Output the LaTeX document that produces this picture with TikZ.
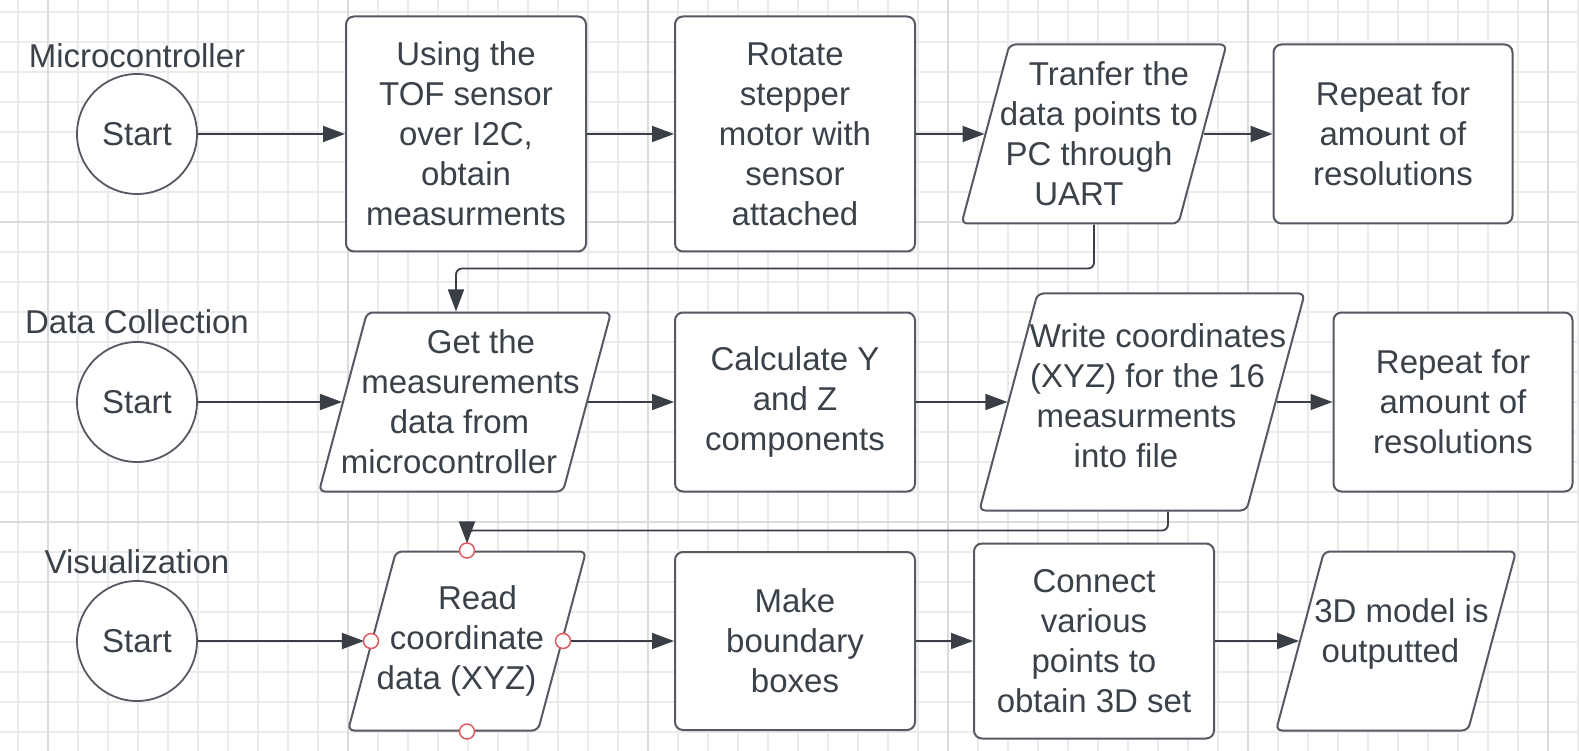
\documentclass[tikz,border=0pt]{standalone}
\usepackage{fontspec}
\setmainfont{Liberation Sans}
\usetikzlibrary{shapes.geometric,arrows.meta}
\definecolor{ink}{HTML}{3B4149}
\definecolor{edge}{HTML}{555A62}
\definecolor{wire}{HTML}{3A3F47}
\definecolor{gridmin}{HTML}{EBEBEB}
\definecolor{gridmaj}{HTML}{DCDCDC}
\definecolor{handle}{HTML}{E05A63}
\tikzset{
  big/.style={font=\fontsize{33}{40}\selectfont, text=ink, align=center},
  gmin/.style={draw=gridmin, line width=1.5pt},
  gmaj/.style={draw=gridmaj, line width=2.5pt},
  startc/.style={big, circle, draw=edge, fill=white, line width=1.8pt, minimum size=120pt, inner sep=0pt},
  proc/.style={big, rectangle, rounded corners=8pt, draw=edge, fill=white, line width=2pt, inner sep=0pt},
  io/.style={trapezium, trapezium left angle=75, trapezium right angle=105,
    rounded corners=6pt, draw=edge, fill=white, line width=2pt, inner ysep=89.5pt},
  lane/.style={big, anchor=base},
  arr/.style={draw=wire, line width=1.8pt, -{Triangle[length=22pt,width=16pt]}},
  pin/.style={circle, draw=handle, fill=white, line width=1.5pt, minimum size=15pt, inner sep=0pt}
}

\begin{document}
\begin{tikzpicture}[x=1pt,y=-1pt]
  \def\ra{134}
  \def\rb{402}
  \def\rc{641}
  \useasboundingbox (0,0) rectangle (1579,751);
  \fill[white] (0,0) rectangle (1579,751);
  % grid
  \foreach \gx in {18,48,...,1578} \draw[gmin] (\gx,0) -- (\gx,751);
  \foreach \gy in {12,42,...,732} \draw[gmin] (0,\gy) -- (1579,\gy);
  \foreach \gx in {48,348,...,1548} \draw[gmaj] (\gx,0) -- (\gx,751);
  \foreach \gy in {222,522} \draw[gmaj] (0,\gy) -- (1579,\gy);

  % microcontroller
  \node[lane] (lanemc) at (137,68) {Microcontroller};
  \node[startc] (startmc) at (137,\ra) {Start};
  \node[proc, minimum width=240pt, minimum height=235pt] (tof) at (466,\ra)
    {Using the\\TOF sensor\\over I2C,\\obtain\\measurments};
  \node[proc, minimum width=240pt, minimum height=235pt] (rot) at (795,\ra)
    {Rotate\\stepper\\motor with\\sensor\\attached};
  \node[io, inner xsep=84.5pt] (uart) at (1094,\ra) {};
  \node[big] (uarttxt) at (uart)
    {\kern30pt Tranfer the\\\kern10pt data points to\\PC through\kern10pt\\UART\kern30pt};
  \node[proc, minimum width=239pt, minimum height=179pt] (repmc) at (1393,\ra)
    {Repeat for\\amount of\\resolutions};

  % data collection
  \node[lane] (lanedc) at (137,333) {Data Collection};
  \node[startc] (startdc) at (137,\rb) {Start};
  \node[io, inner xsep=98pt] (get) at (465,\rb) {};
  \node[big] (gettxt) at (get)
    {\kern32pt Get the\\\kern11pt measurements\\data from\kern11pt\\microcontroller\kern32pt};
  \node[proc, minimum width=240pt, minimum height=179pt] (calc) at (795,\rb)
    {Calculate Y\\and Z\\components};
  \node[io, inner xsep=104.5pt, inner ysep=108.5pt] (write) at (1142,\rb) {};
  \node[big] (writetxt) at (1142,396)
    {\kern32pt Write coordinates\\\kern11pt (XYZ) for the 16\\measurments\kern11pt\\into file\kern32pt};
  \node[proc, minimum width=239pt, minimum height=179pt] (repdc) at (1453,\rb)
    {Repeat for\\amount of\\resolutions};

  % visualization
  \node[lane] (lanevz) at (137,573) {Visualization};
  \node[startc] (startvz) at (137,\rc) {Start};
  \node[io, inner xsep=71pt] (read) at (467,\rc) {};
  \node[big] (readtxt) at (read)
    {\kern21pt Read\\coordinate\\data (XYZ)\kern21pt};
  \node[proc, minimum width=240pt, minimum height=178pt] (make) at (795,\rc)
    {Make\\boundary\\boxes};
  \node[proc, minimum width=240pt, minimum height=195pt] (conn) at (1094,\rc)
    {Connect\\various\\points to\\obtain 3D set};
  \node[io, inner xsep=72pt] (model) at (1396,\rc) {};
  \node[big] (modeltxt) at (1396,634)
    {\kern11pt 3D model is\\outputted\kern11pt};

  % connectors
  \draw[arr] (startmc) -- (tof);
  \draw[arr] (tof) -- (rot);
  \draw[arr] (rot) -- (uart);
  \draw[arr] (uart) -- (repmc);
  \draw[arr, rounded corners=6pt] (uart.south) -- ++(0,44) -| ([xshift=-9pt]get.north);
  \draw[arr] (startdc) -- (get);
  \draw[arr] (get) -- (calc);
  \draw[arr] (calc) -- (write);
  \draw[arr] (write) -- (repdc);
  \draw[arr, rounded corners=6pt, shorten >=7pt] ([xshift=26pt]write.south) -- ++(0,19) -| (read.north);
  \draw[arr, shorten >=7pt] (startvz) -- (read);
  \draw[arr] (read) -- (make);
  \draw[arr] (make) -- (conn);
  \draw[arr] (conn) -- (model);

  % selection handles
  \foreach \a in {north,south,west,east} \node[pin] (pin\a) at (read.\a) {};
\end{tikzpicture}
\end{document}
